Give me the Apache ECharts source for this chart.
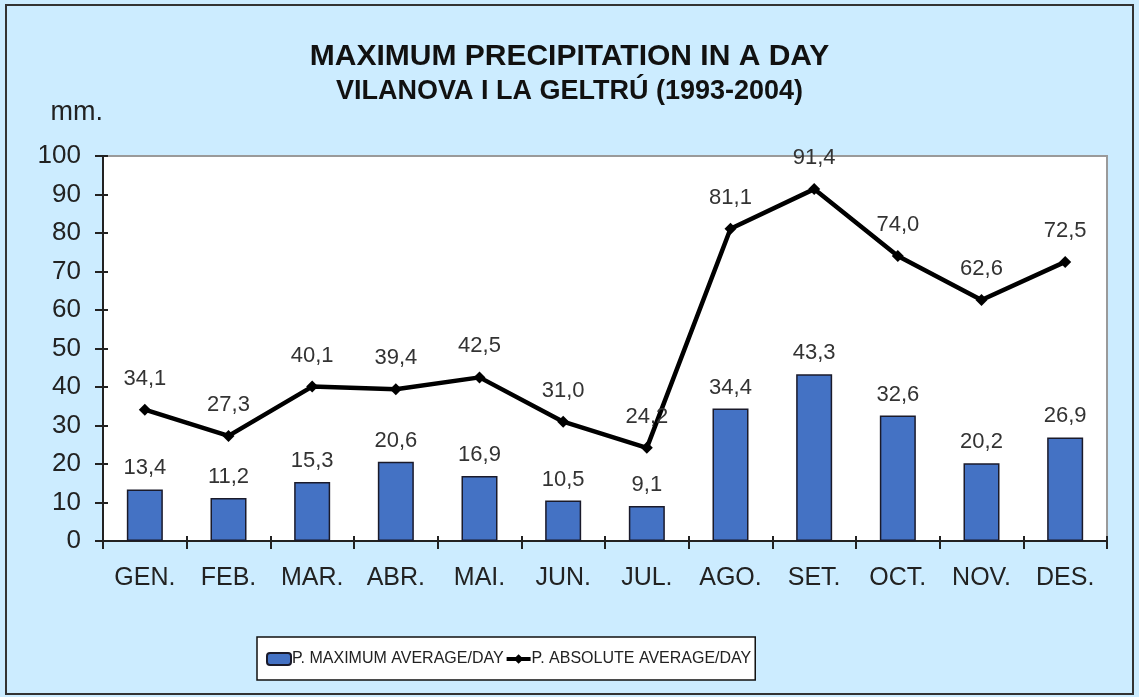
<!DOCTYPE html>
<html>
<head>
<meta charset="utf-8">
<script src="https://cdn.jsdelivr.net/npm/echarts@6/dist/echarts.min.js"></script>
<style>
html,body{margin:0;padding:0;background:#fff;}
#chart{width:1139px;height:697px;}
</style>
</head>
<body>
<div id="chart"></div>
<script>
const categories = ['GEN.','FEB.','MAR.','ABR.','MAI.','JUN.','JUL.','AGO.','SET.','OCT.','NOV.','DES.'];
const maxAverageDay = [13.4, 11.2, 15.3, 20.6, 16.9, 10.5, 9.1, 34.4, 43.3, 32.6, 20.2, 26.9];
const absoluteAverageDay = [34.1, 27.3, 40.1, 39.4, 42.5, 31.0, 24.2, 81.1, 91.4, 74.0, 62.6, 72.5];
const yTicks = [0,10,20,30,40,50,60,70,80,90,100];
const seriesNames = ['P. MAXIMUM AVERAGE/DAY', 'P. ABSOLUTE AVERAGE/DAY'];

const fmt = p => p.value.toFixed(1).replace('.', ',');
const FONT = 'Liberation Sans, Arial, sans-serif';

const chart = echarts.init(document.getElementById('chart'));
chart.setOption({
  backgroundColor: '#CCECFF',
  animation: false,
  textStyle: { fontFamily: FONT },
  title: {
    text: 'MAXIMUM PRECIPITATION IN A DAY',
    subtext: 'VILANOVA I LA GELTRÚ (1993-2004)',
    left: 'center',
    top: 37,
    itemGap: 6,
    textStyle: { fontSize: 30, fontWeight: 'bold', color: '#111', fontFamily: FONT },
    subtextStyle: { fontSize: 27, fontWeight: 'bold', color: '#111', fontFamily: FONT }
  },
  legend: {
    data: [
      { name: seriesNames[0] },
      { name: seriesNames[1], lineStyle: { width: 4, color: '#000' } }
    ],
    left: 257,
    top: 637,
    width: 800,
    backgroundColor: '#fff',
    borderColor: '#111',
    borderWidth: 1.5,
    padding: [14, 4, 13, 9],
    itemGap: 1,
    itemWidth: 24,
    itemHeight: 12,
    textStyle: { fontSize: 16, color: '#222', fontFamily: FONT, padding: [0,0,0,-4] }
  },
  grid: {
    left: 103, right: 32, top: 156, bottom: 156,
    show: true,
    backgroundColor: '#fff',
    borderColor: '#9a9a9a',
    borderWidth: 2
  },
  xAxis: [{
    type: 'category',
    data: categories,
    axisLine: { lineStyle: { color: '#222', width: 2 } },
    axisTick: { show: true, length: 8, lineStyle: { color: '#222', width: 2 } },
    axisLabel: { fontSize: 25, color: '#222', margin: 25 }
  }, {
    type: 'category',
    data: categories,
    position: 'bottom',
    axisLine: { show: false },
    axisTick: { show: true, inside: true, length: 5, lineStyle: { color: '#222', width: 2 } },
    axisLabel: { show: false }
  }],
  yAxis: [{
    type: 'value',
    min: 0, max: 100, interval: 10,
    name: 'mm.',
    nameLocation: 'end',
    nameGap: 30,
    nameTextStyle: { fontSize: 27, color: '#222', align: 'right', padding: [0, 0, 0, 0] },
    splitLine: { show: false },
    axisLine: { show: true, lineStyle: { color: '#222', width: 2 } },
    axisTick: { show: true, length: 8, lineStyle: { color: '#222', width: 2 } },
    axisLabel: { fontSize: 26, color: '#222', margin: 22, formatter: v => yTicks.includes(v) ? String(v) : '' }
  }, {
    type: 'value',
    min: 0, max: 100, interval: 10,
    position: 'left',
    splitLine: { show: false },
    axisLine: { show: false },
    axisTick: { show: true, inside: true, length: 5, lineStyle: { color: '#222', width: 2 } },
    axisLabel: { show: false }
  }],
  series: [{
    name: seriesNames[0],
    type: 'bar',
    data: maxAverageDay,
    barWidth: 36,
    itemStyle: { color: '#4472C4', borderColor: '#1a1a2a', borderWidth: 1.5 },
    label: { show: true, position: 'top', distance: 10, fontSize: 22, color: '#333', formatter: fmt }
  }, {
    name: seriesNames[1],
    type: 'line',
    data: absoluteAverageDay,
    symbol: 'diamond',
    symbolSize: 12,
    lineStyle: { color: '#000', width: 4.5 },
    itemStyle: { color: '#000' },
    label: { show: true, position: 'top', distance: 14, fontSize: 22, color: '#333', formatter: fmt },
    z: 3
  }],
  graphic: [{
    type: 'rect',
    shape: { x: 6, y: 5, width: 1127, height: 689 },
    style: { fill: 'none', stroke: '#333', lineWidth: 2 },
    silent: true
  }]
});
</script>
</body>
</html>
